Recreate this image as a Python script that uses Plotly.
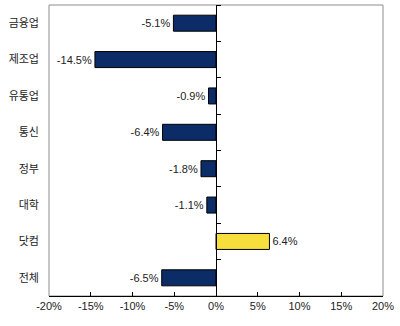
import plotly.graph_objects as go

# Year-over-year change by sector (%)
categories = ["금융업", "제조업", "유통업", "통신", "정부", "대학", "닷컴", "전체"]
values = [-5.1, -14.5, -0.9, -6.4, -1.8, -1.1, 6.4, -6.5]
x_ticks = [-20, -15, -10, -5, 0, 5, 10, 15, 20]
x_tick_labels = ["-20%", "-15%", "-10%", "-5%", "0%", "5%", "10%", "15%", "20%"]

NAVY = "#0b2c66"
YELLOW = "#f6df3c"
bar_colors = [YELLOW if v > 0 else NAVY for v in values]
labels = [f"{v:.1f}%" for v in values]

fig = go.Figure()

fig.add_trace(go.Bar(
    x=values, y=categories, orientation="h",
    marker=dict(color=bar_colors, line=dict(color="#000000", width=1)),
    text=labels, textposition="outside", cliponaxis=False,
    textfont=dict(family="Arial, Liberation Sans", size=11, color="#222222"),
    hoverinfo="skip", yaxis="y",
))

# invisible copy that carries the category axis drawn along zero
fig.add_trace(go.Bar(
    x=values, y=categories, orientation="h", opacity=0,
    hoverinfo="skip", showlegend=False, yaxis="y2",
))

fig.update_layout(
    width=400, height=326,
    margin=dict(l=49, r=17, t=5, b=30),
    paper_bgcolor="white", plot_bgcolor="white",
    showlegend=False, bargap=0.56,
    font=dict(family="Arial, Liberation Sans", size=11, color="#222222"),
    xaxis=dict(
        range=[-20, 20], tickvals=x_ticks, ticktext=x_tick_labels,
        showgrid=False, zeroline=False,
        showline=True, linecolor="#000000", linewidth=1,
        ticks="inside", ticklen=4, tickcolor="#000000",
        tickfont=dict(family="Arial, Liberation Sans", size=11, color="#222222"),
    ),
    yaxis=dict(
        categoryorder="array", categoryarray=categories, autorange="reversed",
        showgrid=False, zeroline=False, showline=False, ticks="",
        ticklabelstandoff=9,
        tickfont=dict(family="Noto Sans CJK KR", size=11, color="#222222"),
    ),
    yaxis2=dict(
        overlaying="y", matches="y", anchor="free", position=0.5, side="right",
        categoryorder="array", categoryarray=categories,
        showgrid=False, zeroline=False, showticklabels=False,
        showline=True, linecolor="#000000", linewidth=1,
        ticks="outside", ticklen=4, tickcolor="#000000", tickson="boundaries",
    ),
    shapes=[dict(
        type="rect", xref="paper", yref="paper", x0=0, x1=1, y0=0, y1=1,
        line=dict(color="#8c8c8c", width=1), layer="below",
    )],
)

fig.write_html("out.html")
